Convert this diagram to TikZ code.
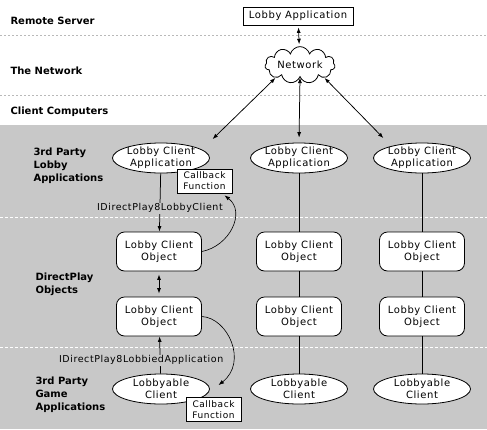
\documentclass[tikz,border=0pt]{standalone}
\usepackage{fontspec}
\setmainfont{DejaVu Sans}
\newfontfamily\boxfont{DejaVu Sans}[LetterSpace=6]
\usepackage{tikz}
\usetikzlibrary{arrows.meta}
\usetikzlibrary{shapes.geometric}
\usetikzlibrary{shapes.symbols}

\definecolor{panel}{RGB}{200,200,200}
\definecolor{rule}{RGB}{185,185,185}

\tikzset{
  lbl/.style={anchor=west,align=left,font=\fontsize{10}{13}\selectfont\bfseries},
  oval/.style={ellipse,draw,fill=white,line width=0.8pt,minimum width=97pt,minimum height=30pt,
    inner xsep=-2pt,inner ysep=-1pt,align=center,font=\fontsize{10}{12}\selectfont\boxfont},
  obj/.style={rectangle,rounded corners=8pt,draw,fill=white,line width=0.8pt,minimum width=85pt,
    minimum height=39pt,inner sep=0pt,align=center,font=\fontsize{10}{12}\selectfont\boxfont},
  cb/.style={rectangle,draw,fill=white,line width=0.8pt,minimum width=55pt,minimum height=24pt,
    inner sep=0pt,align=center,font=\fontsize{9}{11}\selectfont\boxfont},
  box/.style={rectangle,draw,fill=white,line width=0.8pt,minimum width=110pt,minimum height=18pt,
    inner sep=0pt,font=\fontsize{10}{12}\selectfont\boxfont},
  netcloud/.style={cloud,cloud puffs=11,aspect=2,draw,fill=white,line width=0.8pt,
    minimum width=70pt,minimum height=35pt,inner sep=-4pt,font=\fontsize{10}{12}\selectfont\boxfont},
  iface/.style={fill=panel,inner sep=1pt,font=\fontsize{9.5}{11}\selectfont\boxfont},
  link/.style={line width=0.75pt},
  >={Latex[length=5.5pt,width=4pt]}
}

\begin{document}
\begin{tikzpicture}[x=1pt,y=-1pt]
\useasboundingbox (0,0) rectangle (487,429);
\fill[panel] (0,125) rectangle (487,429);
\draw[rule,dash pattern=on 2pt off 2pt] (0,35) -- (487,35);
\draw[rule,dash pattern=on 2pt off 2pt] (0,95) -- (487,95);
\draw[white,dash pattern=on 3pt off 2pt] (0,217) -- (487,217);
\draw[white,dash pattern=on 3pt off 2pt] (0,347) -- (487,347);

\node[lbl] (h1) at (7,21) {Remote Server};
\node[lbl] (h2) at (7,71) {The Network};
\node[lbl] (h3) at (7,112) {Client Computers};
\node[lbl] (h4) at (30,166) {3rd Party\\Lobby\\Applications};
\node[lbl] (h5) at (32,284) {DirectPlay\\Objects};
\node[lbl] (h6) at (32,395) {3rd Party\\Game\\Applications};

\node[box] (app) at (298,16) {Lobby Application};
\node[netcloud] (net) at (300,65) {Network};

\node[oval] (a1) at (161,158) {Lobby Client\\Application};
\node[oval] (a2) at (299,158) {Lobby Client\\Application};
\node[oval] (a3) at (422,158) {Lobby Client\\Application};
\node[obj] (o1) at (159,251.5) {Lobby Client\\Object};
\node[obj] (o2) at (299,251.5) {Lobby Client\\Object};
\node[obj] (o3) at (422,251.5) {Lobby Client\\Object};
\node[obj] (p1) at (159,316.5) {Lobby Client\\Object};
\node[obj] (p2) at (299,316.5) {Lobby Client\\Object};
\node[obj] (p3) at (422,316.5) {Lobby Client\\Object};
\node[oval] (g1) at (161,389) {Lobbyable\\Client};
\node[oval] (g2) at (299,389) {Lobbyable\\Client};
\node[oval] (g3) at (422,389) {Lobbyable\\Client};
\node[cb] (c1) at (204.5,181) {Callback\\Function};
\node[cb] (c2) at (213.5,409.5) {Callback\\Function};

\draw[link,<->,shorten <=2pt,shorten >=2pt] (app) -- (net);
\draw[link,<->] (net.south west) -- ([xshift=17pt,yshift=8pt]a1.north east);
\draw[link,<->,shorten >=5pt] (net.south) -- (a2.north);
\draw[link,<->] (net.south east) -- ([xshift=-4pt,yshift=9pt]a3.north west);

\draw[link,->] (a1) -- node[iface,pos=0.6] (i1) {IDirectPlay8LobbyClient} (o1);
\draw[link,<->,shorten <=3pt,shorten >=3pt] (o1) -- (p1);
\draw[link,->] (g1) -- node[iface,pos=0.36,xshift=-19pt] (i2) {IDirectPlay8LobbiedApplication} (p1);
\draw[line width=0.6pt,->] (o1.east) .. controls (230,246) and (246,212) .. ([xshift=20pt,yshift=-2pt]c1.south);
\draw[line width=0.6pt,->] (p1.east) .. controls (228,318) and (248,362) .. ([xshift=5pt,yshift=12pt]c2.north);

\draw[link] (a2) -- (o2);
\draw[link] (o2) -- (p2);
\draw[link] (p2) -- (g2);
\draw[link] (a3) -- (o3);
\draw[link] (o3) -- (p3);
\draw[link] (p3) -- (g3);
\end{tikzpicture}
\end{document}
